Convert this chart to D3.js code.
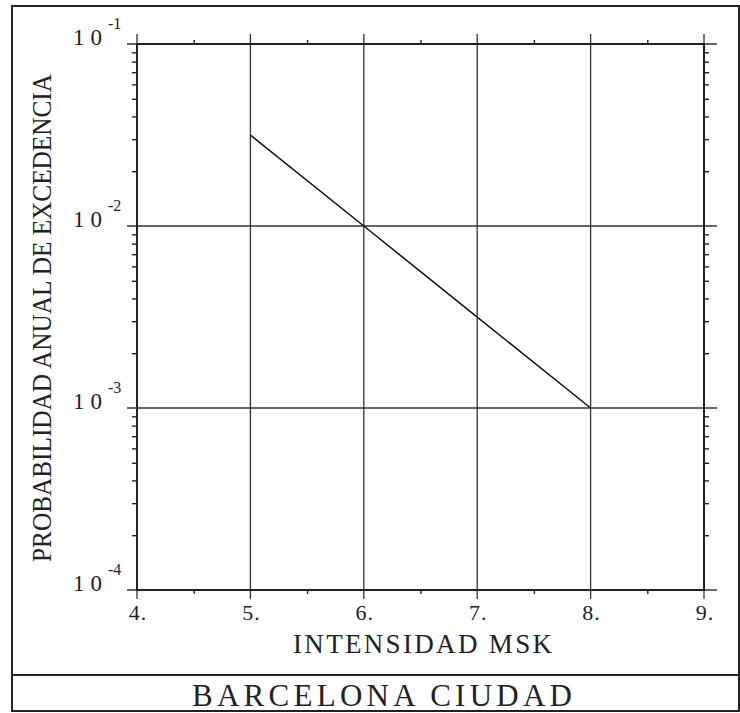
<!DOCTYPE html>
<html>
<head>
<meta charset="utf-8">
<script src="https://cdn.jsdelivr.net/npm/d3@7"></script>
<style>
  html, body { margin: 0; padding: 0; background: #fff; }
  svg { display: block; }
  text { font-family: "Liberation Serif", "Times New Roman", serif; fill: #222; }
</style>
</head>
<body>
<svg id="chart" width="740" height="713"></svg>
<script>
// Annual exceedance probability vs. MSK intensity, Barcelona city
const intensity = [5, 6, 7, 8];
const probability = [0.0316, 0.01, 0.00316, 0.001];

const xTicks = [4, 5, 6, 7, 8, 9];
const xTickLabels = ["4.", "5.", "6.", "7.", "8.", "9."];
const yDecades = [1e-4, 1e-3, 1e-2, 1e-1];
const yExponents = ["-4", "-3", "-2", "-1"];

const title = "BARCELONA CIUDAD";
const xTitle = "INTENSIDAD MSK";
const yTitle = "PROBABILIDAD ANUAL DE EXCEDENCIA";

const svg = d3.select("#chart");
const plot = { left: 137, right: 704, top: 44, bottom: 590 };

const x = d3.scaleLinear().domain([4, 9]).range([plot.left, plot.right]);
const y = d3.scaleLog().domain([1e-4, 1e-1]).range([plot.bottom, plot.top]);

// outer frame and title divider
svg.append("rect")
  .attr("x", 12).attr("y", 6).attr("width", 727).attr("height", 705)
  .attr("fill", "none").attr("stroke", "#222").attr("stroke-width", 2);
svg.append("line")
  .attr("x1", 12).attr("x2", 739).attr("y1", 675).attr("y2", 675)
  .attr("stroke", "#222").attr("stroke-width", 2);

// minor log ticks (2..9 per decade) on left and right, half-unit ticks on top and bottom
const minorY = [];
for (let e = -4; e < -1; e++) for (let m = 2; m <= 9; m++) minorY.push(m * Math.pow(10, e));
const minorX = [4.5, 5.5, 6.5, 7.5, 8.5];

const tickStyle = g => g.call(s => s.select(".domain").remove())
  .call(s => s.selectAll(".tick line").attr("stroke", "#222").attr("stroke-width", 1.4))
  .call(s => s.selectAll("text").remove());

svg.append("g").attr("transform", `translate(${plot.left},0)`)
  .call(d3.axisLeft(y).tickValues(minorY).tickSize(5)).call(tickStyle);
svg.append("g").attr("transform", `translate(${plot.right},0)`)
  .call(d3.axisRight(y).tickValues(minorY).tickSize(5)).call(tickStyle);
svg.append("g").attr("transform", `translate(0,${plot.top})`)
  .call(d3.axisTop(x).tickValues(minorX).tickSize(4)).call(tickStyle);
svg.append("g").attr("transform", `translate(0,${plot.bottom})`)
  .call(d3.axisBottom(x).tickValues(minorX).tickSize(4)).call(tickStyle);

// grid lines at decades and integer intensities, running past the frame
svg.append("g").selectAll("line").data(yDecades).join("line")
  .attr("x1", plot.left - 10).attr("x2", plot.right + 13)
  .attr("y1", d => y(d)).attr("y2", d => y(d))
  .attr("stroke", "#333").attr("stroke-width", 1.3);
svg.append("g").selectAll("line").data(xTicks).join("line")
  .attr("x1", d => x(d)).attr("x2", d => x(d))
  .attr("y1", plot.top - 10).attr("y2", plot.bottom + 9)
  .attr("stroke", "#333").attr("stroke-width", 1.3);

// plot frame
svg.append("rect")
  .attr("x", plot.left).attr("y", plot.top)
  .attr("width", plot.right - plot.left).attr("height", plot.bottom - plot.top)
  .attr("fill", "none").attr("stroke", "#222").attr("stroke-width", 2);

// y tick labels: 10 with superscript exponent
const yl = svg.append("g").selectAll("g").data(yDecades).join("g");
yl.append("text")
  .attr("x", 73).attr("y", d => y(d) + 1)
  .attr("font-size", 23)
  .attr("textLength", 29).attr("lengthAdjust", "spacing")
  .text("10");
yl.append("text")
  .attr("x", 108).attr("y", d => y(d) - 15)
  .attr("font-size", 16)
  .text((d, i) => yExponents[i]);

// x tick labels
svg.append("g").selectAll("text").data(xTicks).join("text")
  .attr("x", d => x(d) + 1).attr("y", 620)
  .attr("text-anchor", "middle")
  .attr("font-size", 22).attr("letter-spacing", 1)
  .text((d, i) => xTickLabels[i]);

// axis titles and chart title
svg.append("text")
  .attr("x", 293).attr("y", 653)
  .attr("font-size", 27)
  .attr("textLength", 259).attr("lengthAdjust", "spacing")
  .text(xTitle);
svg.append("text")
  .attr("transform", "translate(51,562) rotate(-90)")
  .attr("font-size", 28)
  .attr("textLength", 488).attr("lengthAdjust", "spacingAndGlyphs")
  .text(yTitle);
svg.append("text")
  .attr("x", 192).attr("y", 706)
  .attr("font-size", 31)
  .attr("textLength", 380).attr("lengthAdjust", "spacing")
  .text(title);

// hazard curve
const line = d3.line().x((d, i) => x(intensity[i])).y(d => y(d));
svg.append("path")
  .datum(probability)
  .attr("d", line)
  .attr("fill", "none").attr("stroke", "#111").attr("stroke-width", 1.5);
</script>
</body>
</html>
